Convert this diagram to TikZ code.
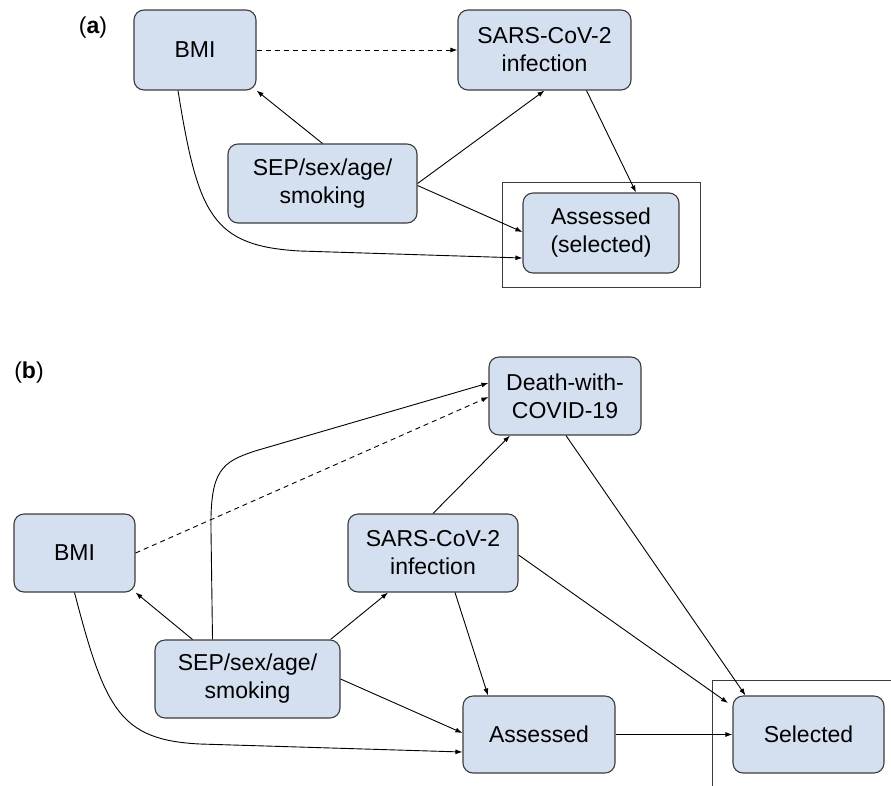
\documentclass[tikz,border=0pt]{standalone}
\usepackage{fontspec}
\setmainfont{Liberation Sans}
\usetikzlibrary{arrows.meta,calc}
\definecolor{boxfill}{RGB}{212,224,240}
\definecolor{boxline}{RGB}{60,60,60}
\tikzset{
  vbox/.style={draw=boxline, line width=1.1pt, fill=boxfill, rounded corners=10pt,
    align=center, inner sep=0pt, font=\fontsize{23}{28}\selectfont},
  conn/.style={line width=0.9pt, -{Latex[length=7pt,width=5pt]}},
  dconn/.style={conn, dash pattern=on 5pt off 4pt},
  frame/.style={draw=boxline, line width=1pt},
  plabel/.style={font=\fontsize{23}{28}\selectfont, inner sep=0pt}
}
\begin{document}
\begin{tikzpicture}[x=1pt,y=-1pt]
\useasboundingbox (0,0) rectangle (891,785);
% panel (a)
\node[plabel] (la) at (93,28) {(\textbf{a})};
\node[vbox, minimum width=122pt, minimum height=80pt] (bmiA) at (195,50) {BMI};
\node[vbox, minimum width=173pt, minimum height=80pt] (sarsA) at (544.5,50) {SARS-CoV-2\\infection};
\node[vbox, minimum width=189pt, minimum height=79pt] (sepA) at (322.5,183.5) {SEP/sex/age/\\smoking};
\node[vbox, minimum width=156pt, minimum height=80pt] (assA) at (601,233) {Assessed\\(selected)};
\node[frame, minimum width=198pt, minimum height=105pt, inner sep=0pt] (frA) at (601,234.5) {};

\draw[dconn] (bmiA.east) -- (sarsA.west);
\draw[conn] (sepA.north) -- (bmiA.south east);
\draw[conn] (sepA.east) -- (sarsA.south);
\draw[conn] ($(sepA.east)+(0,2)$) -- (assA.west |- 0,232);
\draw[conn] ($(sarsA.south)+(42,0)$) -- ($(assA.north)+(35,0)$);
\draw[conn] ($(bmiA.south)+(-17,0)$) .. controls (198,215) and (212,246) .. (300,251) -- (assA.west |- 0,258);

% panel (b)
\node[plabel] (lb) at (29,373) {(\textbf{b})};
\node[vbox, minimum width=121pt, minimum height=78pt] (bmiB) at (74.5,553) {BMI};
\node[vbox, minimum width=185pt, minimum height=78pt] (sepB) at (247.5,679) {SEP/sex/age/\\smoking};
\node[vbox, minimum width=170pt, minimum height=78pt] (sarsB) at (433,553) {SARS-CoV-2\\infection};
\node[vbox, minimum width=152pt, minimum height=78pt] (deathB) at (565,396) {Death-with-\\COVID-19};
\node[vbox, minimum width=152pt, minimum height=77pt] (assB) at (539,734.5) {Assessed};
\node[vbox, minimum width=151pt, minimum height=77pt] (selB) at (808.5,734.5) {Selected};
\coordinate (frB1) at (712,790);
\coordinate (frB2) at (712,680);
\coordinate (frB3) at (895,680);
\draw[frame] (frB1) -- (frB2) -- (frB3);

\draw[dconn] (bmiB.east) -- (deathB.west |- 0,397);
\draw[conn] ($(sepB.north)+(-35,0)$) -- (211,530) .. controls (210,470) and (222,462) .. (255,451) -- (deathB.west |- 0,383);
\draw[conn] ($(sepB.north)+(-55,0)$) -- (bmiB.south east);
\draw[conn] ($(sepB.north east)+(-10,0)$) -- ($(sarsB.south)+(-45,0)$);
\draw[conn] (sepB.east) -- (assB.west |- 0,733);
\draw[conn] (bmiB.south) .. controls (105,710) and (120,740) .. (200,744) -- (assB.west |- 0,752);
\draw[conn] (sarsB.north) -- ($(deathB.south)+(-55,0)$);
\draw[conn] ($(sarsB.south)+(22,0)$) -- ($(assB.north)+(-51,0)$);
\draw[conn] ($(sarsB.east)+(0,2)$) -- (728,703);
\draw[conn] ($(deathB.south)+(1,0)$) -- ($(selB.north)+(-63,0)$);
\draw[conn] (assB.east) -- (selB.west);
\end{tikzpicture}
\end{document}
